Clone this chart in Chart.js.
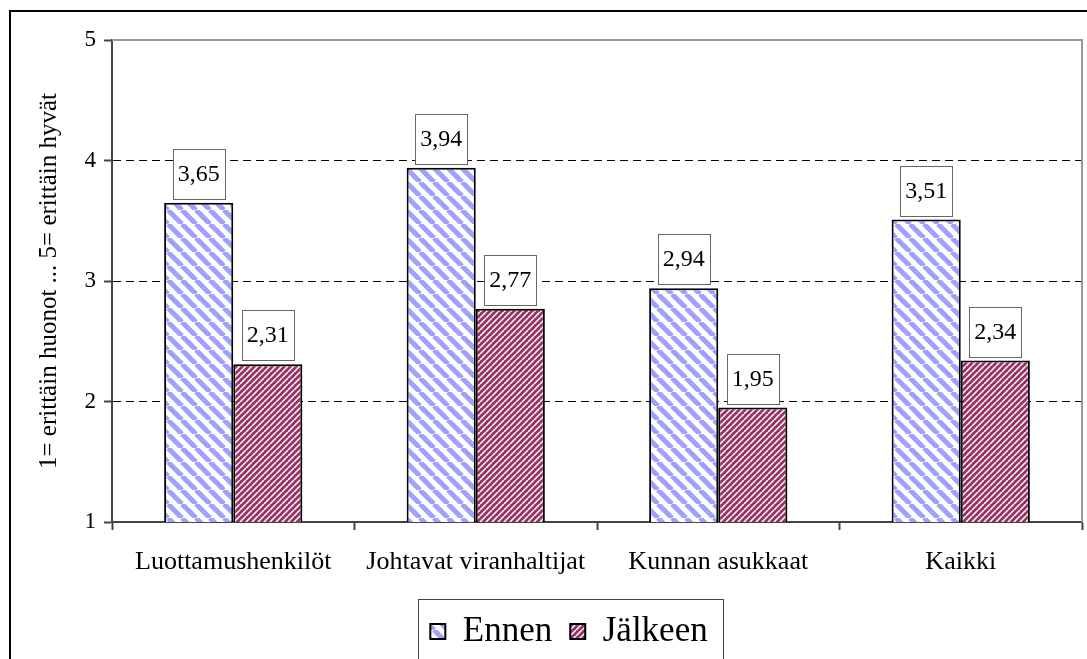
<!DOCTYPE html>
<html>
<head>
<meta charset="utf-8">
<style>
  html, body { margin: 0; padding: 0; background: #fff; }
</style>
<script src="https://cdn.jsdelivr.net/npm/chart.js@4"></script>
</head>
<body>
<canvas id="chart" width="1087" height="659"></canvas>
<script>
const categories = ["Luottamushenkilöt", "Johtavat viranhaltijat", "Kunnan asukkaat", "Kaikki"];
const ennen = [3.65, 3.94, 2.94, 3.51];
const jalkeen = [2.31, 2.77, 1.95, 2.34];
const seriesNames = ["Ennen", "Jälkeen"];
const yTicks = [1, 2, 3, 4, 5];
const yTitle = "1= erittäin huonot ... 5= erittäin hyvät";

const serif = "'Liberation Serif', 'Times New Roman', serif";
Chart.defaults.font.family = serif;
Chart.defaults.color = "#000";

// diagonal stripe tile; dir > 0 means "/" and dir < 0 means "\"
function stripes(size, bg, fg, lw, dir) {
  const c = document.createElement("canvas");
  c.width = size;
  c.height = size;
  const g = c.getContext("2d");
  g.fillStyle = bg;
  g.fillRect(0, 0, size, size);
  g.strokeStyle = fg;
  g.lineWidth = lw;
  g.beginPath();
  for (let k = -1; k <= 1; k++) {
    if (dir > 0) {
      g.moveTo(k * size, size);
      g.lineTo(k * size + size, 0);
    } else {
      g.moveTo(k * size, 0);
      g.lineTo(k * size + size, size);
    }
  }
  g.stroke();
  return g.createPattern(c, "repeat");
}

const ennenFill = stripes(14, "#ffffff", "#a0a0ff", 5, -1);
const jalkeenFill = stripes(6, "#993366", "#ffffff", 1.5, 1);

// boxed value labels above the bars
const boxLabels = {
  id: "boxLabels",
  afterDatasetsDraw(chart) {
    const ctx = chart.ctx;
    ctx.save();
    ctx.font = "24px " + serif;
    ctx.textAlign = "center";
    ctx.textBaseline = "middle";
    chart.data.datasets.forEach((ds, di) => {
      chart.getDatasetMeta(di).data.forEach((bar, i) => {
        const w = 52, h = 50;
        const x = Math.round(bar.x - w / 2);
        const y = Math.round(bar.y - 4 - h);
        ctx.fillStyle = "#fff";
        ctx.fillRect(x, y, w, h);
        ctx.strokeStyle = "#666";
        ctx.lineWidth = 1;
        ctx.strokeRect(x + 0.5, y + 0.5, w, h);
        ctx.fillStyle = "#000";
        ctx.fillText(ds.data[i].toFixed(2).replace(".", ","), bar.x, y + h / 2 + 1);
      });
    });
    ctx.restore();
  }
};

const frame = {
  id: "frame",
  afterLayout(chart) {
    // legend sits a bit right of the page centre
    chart.legend.left += 28;
    chart.legend.right += 28;
  },
  beforeDatasetsDraw(chart) {
    const {ctx, chartArea: a} = chart;
    ctx.save();
    ctx.strokeStyle = "#999";
    ctx.lineWidth = 2;
    ctx.beginPath();
    ctx.moveTo(a.left, a.top);
    ctx.lineTo(a.right, a.top);
    ctx.lineTo(a.right, a.bottom);
    ctx.stroke();
    ctx.restore();
  },
  afterDraw(chart) {
    const ctx = chart.ctx;
    const lg = chart.legend;
    const pad = lg.options.labels.padding;
    const lw = lg.lineWidths[0];
    const start = (lg.left + pad + lg.right - lw) / 2;
    const end = start + lw - pad;
    ctx.save();
    ctx.strokeStyle = "#444";
    ctx.lineWidth = 1;
    ctx.strokeRect(Math.round(start - 12) + 0.5, lg.top + 3.5, Math.round(end - start + 28), 100);
    ctx.strokeStyle = "#000";
    ctx.lineWidth = 2;
    ctx.strokeRect(10, 11, 1200, 800);
    ctx.restore();
  }
};

new Chart(document.getElementById("chart"), {
  type: "bar",
  data: {
    labels: categories,
    datasets: [
      {
        label: seriesNames[0],
        data: ennen,
        backgroundColor: ennenFill,
        borderColor: "#000",
        borderWidth: 2,
        borderSkipped: false,
        categoryPercentage: 0.57,
        barPercentage: 1,
      },
      {
        label: seriesNames[1],
        data: jalkeen,
        backgroundColor: jalkeenFill,
        borderColor: "#000",
        borderWidth: 2,
        borderSkipped: false,
        categoryPercentage: 0.57,
        barPercentage: 1,
      },
    ],
  },
  options: {
    responsive: false,
    animation: false,
    layout: { padding: { left: 0, right: 5, top: 40, bottom: 0 } },
    plugins: {
      tooltip: { enabled: false },
      legend: {
        position: "bottom",
        labels: {
          font: { size: 35, family: serif },
          color: "#000",
          boxWidth: 15,
          boxHeight: 15,
          padding: 18,
        },
      },
    },
    scales: {
      x: {
        grid: {
          offset: true,
          drawOnChartArea: false,
          drawTicks: true,
          tickLength: 8,
          tickColor: "#444",
          tickWidth: 2,
        },
        border: { color: "#444", width: 2 },
        ticks: { font: { size: 26 }, color: "#000", padding: 17, maxRotation: 0 },
        afterFit(scale) {
          scale.height = 74;
        },
      },
      y: {
        min: yTicks[0],
        max: yTicks[yTicks.length - 1],
        afterBuildTicks(scale) {
          scale.ticks = yTicks.map((v) => ({ value: v }));
        },
        grid: {
          color: (c) => (c.tick && (c.tick.value === yTicks[0] || c.tick.value === yTicks[yTicks.length - 1]) ? "rgba(0,0,0,0)" : "#000"),
          lineWidth: 1,
          drawTicks: true,
          tickLength: 8,
          tickColor: "#444",
          tickWidth: 2,
          tickBorderDash: [],
        },
        border: { color: "#444", width: 2, dash: [8, 5] },
        ticks: { font: { size: 23 }, color: "#000", padding: 8 },
        title: {
          display: true,
          text: yTitle,
          font: { size: 25 },
          color: "#000",
          padding: { top: 34, bottom: 0 },
        },
        afterFit(scale) {
          scale.width = 112;
        },
      },
    },
  },
  plugins: [boxLabels, frame],
});
</script>
</body>
</html>
